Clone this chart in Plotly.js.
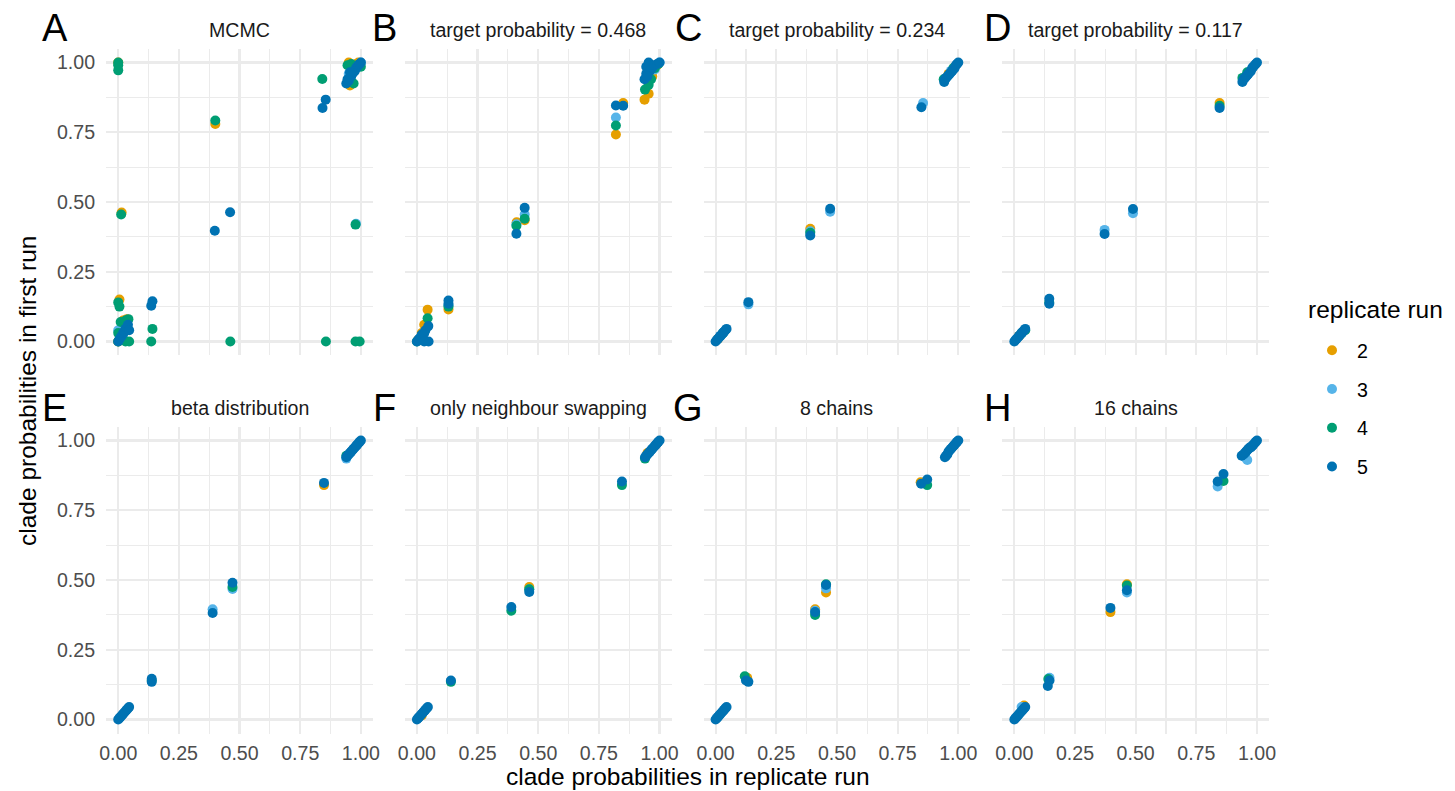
<!DOCTYPE html>
<html>
<head>
<meta charset="utf-8">
<script src="https://cdn.plot.ly/plotly-3.0.1.min.js"></script>
<style>html,body{margin:0;padding:0;background:#fff;}#chart{width:1455px;height:791px;}</style>
</head>
<body>
<div id="chart"></div>
<script>
// ---------------- DATA ----------------
const panelTags = ["A","B","C","D","E","F","G","H"];
const panelTitles = ["MCMC","target probability = 0.468","target probability = 0.234","target probability = 0.117",
                     "beta distribution","only neighbour swapping","8 chains","16 chains"];
const runs = ["2","3","4","5"];
const runColors = ["#E69F00","#56B4E9","#009E73","#0072B2"];
const tickVals = [0, 0.25, 0.5, 0.75, 1];
const tickText = ["0.00","0.25","0.50","0.75","1.00"];
const minorVals = [0.125, 0.375, 0.625, 0.875];

// [replicate-run probability, first-run probability]
const A2 = [[0,1.0],[0.005,0.15],[0.014,0.462],[0.02,0.075],[0.035,0.08],[0.40,0.78],[0.95,1.0],[0.96,0.99],[0.955,0.918],[0.98,0.995],[0.99,1.0],[0,0],[0.01,0.01]];
const A3 = [[0,0.04],[0.005,0.005],[0.02,0.02],[0.98,0.422],[0.95,0.96],[0.97,0.97],[1.0,1.0]];
const A4 = [[0,1.0],[0,0.99],[0,0.972],[0.012,0.455],[0.0,0.14],[0.005,0.125],[0.01,0.07],[0.03,0.075],[0.042,0.08],[0,0.03],[0,0],[0.03,0],[0.045,0],[0.136,0],[0.141,0.045],[0.40,0.792],[0.462,0],[0.841,0.941],[0.978,0.419],[0.856,0],[0.978,0],[0.995,0],[0.945,0.99],[0.96,0.995],[0.97,0.925],[0.985,0.99],[1.0,0.985]];
const A5 = [[0,0],[0.005,0.008],[0.01,0.015],[0.015,0.02],[0.02,0.03],[0.025,0.035],[0.03,0.045],[0.035,0.05],[0.04,0.06],[0.045,0.04],[0.136,0.128],[0.141,0.144],[0.398,0.397],[0.461,0.463],[0.842,0.837],[0.855,0.867],[0.94,0.925],[0.95,0.935],[0.96,0.95],[0.965,0.96],[0.97,0.965],[0.975,0.97],[0.98,0.98],[0.985,0.985],[0.99,0.99],[0.995,0.995],[1.0,1.0],[0.955,0.965],[0.945,0.94]];

const B2 = [[0.005,0.005],[0.02,0.03],[0.03,0.06],[0.044,0.114],[0.13,0.115],[0.411,0.427],[0.444,0.435],[0.82,0.742],[0.85,0.855],[0.938,0.867],[0.955,0.888],[0.97,0.95],[0.99,0.99]];
const B3 = [[0.01,0.01],[0.03,0.03],[0.13,0.13],[0.41,0.42],[0.444,0.455],[0.82,0.803],[0.955,0.95],[0.98,0.975],[1.0,1.0]];
const B4 = [[0,0],[0.02,0.02],[0.044,0.083],[0.13,0.125],[0.41,0.415],[0.444,0.44],[0.82,0.774],[0.94,0.903],[0.955,0.92],[0.965,0.94],[0.98,0.98],[0.995,0.995]];
const B5 = [[0,0],[0.005,0.005],[0.01,0.01],[0.015,0.015],[0.02,0.025],[0.03,0.03],[0.035,0.04],[0.047,0.055],[0.048,0],[0.03,0],[0.13,0.135],[0.13,0.147],[0.41,0.386],[0.444,0.479],[0.82,0.846],[0.85,0.845],[0.938,0.94],[0.945,0.96],[0.945,0.985],[0.955,1.0],[0.96,0.97],[0.97,0.98],[0.98,0.99],[0.99,0.995],[1.0,1.0],[0.95,0.95]];

const C2 = [[0.01,0.01],[0.39,0.404],[0.96,0.96]];
const C3 = [[0.02,0.02],[0.135,0.133],[0.39,0.395],[0.472,0.465],[0.855,0.855],[0.97,0.97]];
const C4 = [[0.03,0.03],[0.39,0.39],[0.94,0.94],[0.98,0.98]];
const C5 = [[0,0],[0.005,0.005],[0.01,0.01],[0.015,0.015],[0.02,0.02],[0.025,0.025],[0.03,0.03],[0.035,0.035],[0.04,0.04],[0.045,0.045],[0.135,0.141],[0.39,0.38],[0.472,0.476],[0.848,0.84],[0.942,0.93],[0.945,0.94],[0.95,0.945],[0.955,0.95],[0.96,0.955],[0.965,0.96],[0.97,0.965],[0.975,0.97],[0.98,0.975],[0.985,0.98],[0.99,0.99],[0.995,0.995],[1,1]];

const D2 = [[0.02,0.02],[0.846,0.855]];
const D3 = [[0.372,0.40],[0.489,0.46],[0.96,0.96]];
const D4 = [[0.03,0.03],[0.045,0.04],[0.144,0.14],[0.846,0.845],[0.94,0.945],[0.96,0.965]];
const D5 = [[0,0],[0.005,0.005],[0.01,0.01],[0.015,0.015],[0.02,0.02],[0.025,0.025],[0.03,0.03],[0.035,0.035],[0.04,0.04],[0.045,0.045],[0.144,0.153],[0.144,0.135],[0.372,0.385],[0.489,0.475],[0.846,0.837],[0.94,0.93],[0.945,0.94],[0.95,0.945],[0.955,0.95],[0.96,0.955],[0.965,0.96],[0.97,0.965],[0.975,0.97],[0.98,0.98],[0.985,0.985],[0.99,0.99],[0.995,0.995],[1,1]];

const E2 = [[0.848,0.84]];
const E3 = [[0.389,0.395],[0.471,0.468],[0.94,0.935]];
const E4 = [[0.138,0.14],[0.471,0.475],[0.94,0.945]];
const E5 = [[0,0],[0.005,0.005],[0.01,0.01],[0.015,0.015],[0.02,0.02],[0.025,0.025],[0.03,0.03],[0.035,0.035],[0.04,0.04],[0.045,0.045],[0.138,0.146],[0.138,0.135],[0.389,0.382],[0.471,0.49],[0.848,0.848],[0.94,0.94],[0.945,0.945],[0.95,0.95],[0.955,0.955],[0.96,0.96],[0.965,0.965],[0.97,0.97],[0.975,0.975],[0.98,0.98],[0.985,0.985],[0.99,0.99],[0.995,0.995],[1,1]];

const F2 = [[0.02,0.015],[0.463,0.475],[0.95,0.955]];
const F3 = [[0.463,0.467]];
const F4 = [[0.14,0.135],[0.389,0.39],[0.463,0.467],[0.845,0.84],[0.94,0.935]];
const F5 = [[0,0],[0.005,0.005],[0.01,0.01],[0.015,0.015],[0.02,0.02],[0.025,0.025],[0.03,0.03],[0.035,0.035],[0.04,0.04],[0.045,0.045],[0.14,0.14],[0.389,0.403],[0.463,0.457],[0.845,0.853],[0.94,0.94],[0.945,0.945],[0.95,0.95],[0.955,0.955],[0.96,0.96],[0.965,0.965],[0.97,0.97],[0.975,0.975],[0.98,0.98],[0.985,0.985],[0.99,0.99],[0.995,0.995],[1,1]];

const G2 = [[0.13,0.15],[0.41,0.395],[0.455,0.455],[0.845,0.85]];
const G3 = [[0.41,0.39],[0.455,0.47]];
const G4 = [[0.12,0.155],[0.41,0.375],[0.455,0.485],[0.872,0.84]];
const G5 = [[0,0],[0.005,0.005],[0.01,0.01],[0.015,0.015],[0.02,0.02],[0.025,0.025],[0.03,0.03],[0.035,0.035],[0.04,0.04],[0.045,0.045],[0.125,0.14],[0.135,0.135],[0.41,0.385],[0.455,0.482],[0.847,0.845],[0.872,0.86],[0.945,0.94],[0.95,0.945],[0.955,0.95],[0.96,0.96],[0.965,0.965],[0.97,0.97],[0.975,0.975],[0.98,0.98],[0.985,0.985],[0.99,0.99],[0.995,0.995],[1,1]];

const H2 = [[0.04,0.05],[0.396,0.385],[0.464,0.485]];
const H3 = [[0.03,0.045],[0.145,0.15],[0.464,0.455],[0.838,0.835],[0.96,0.93],[0.95,0.94]];
const H4 = [[0.14,0.145],[0.464,0.48],[0.862,0.855]];
const H5 = [[0,0],[0.005,0.005],[0.01,0.01],[0.015,0.015],[0.02,0.02],[0.025,0.025],[0.03,0.03],[0.035,0.035],[0.04,0.04],[0.045,0.045],[0.138,0.12],[0.145,0.14],[0.396,0.4],[0.464,0.463],[0.838,0.853],[0.862,0.88],[0.937,0.945],[0.945,0.95],[0.95,0.955],[0.955,0.96],[0.96,0.965],[0.965,0.97],[0.97,0.975],[0.975,0.975],[0.98,0.98],[0.985,0.985],[0.99,0.99],[0.995,0.995],[1,1]];

const panelData = [[A2,A3,A4,A5],[B2,B3,B4,B5],[C2,C3,C4,C5],[D2,D3,D4,D5],
                   [E2,E3,E4,E5],[F2,F3,F4,F5],[G2,G3,G4,G5],[H2,H3,H4,H5]];

// ---------------- LAYOUT ----------------
const W = 1455, H = 791;
const FONT = "Liberation Sans, Arial, Helvetica, sans-serif";
const colLeft = [106.1, 404.8, 703.5, 1002.2];
const panelW = 266.9;
const rowTop = [48.6, 426.5];
const rowBottom = [355.4, 733.5];
const tagCenterX = [55, 384.7, 688, 997];

const traces = [];
const layout = {
  width: W, height: H,
  margin: {l: 0, r: 0, t: 0, b: 0},
  paper_bgcolor: "#ffffff", plot_bgcolor: "#ffffff",
  font: {family: FONT, color: "#4D4D4D"},
  showlegend: true,
  legend: {
    x: 1307/W, y: 1 - 331/H, xanchor: "left", yanchor: "top",
    font: {size: 19.6, color: "#000000", family: FONT},
    traceorder: "grouped", tracegroupgap: 10.3, itemsizing: "trace", itemwidth: 40,
    bgcolor: "rgba(0,0,0,0)"
  },
  annotations: []
};

for (let i = 0; i < 8; i++) {
  const row = Math.floor(i / 4), col = i % 4;
  const sfx = i === 0 ? "" : String(i + 1);
  const xa = {
    domain: [colLeft[col] / W, (colLeft[col] + panelW) / W],
    anchor: "y" + sfx, range: [-0.05, 1.05],
    tickmode: "array", tickvals: tickVals, ticktext: tickText,
    showticklabels: row === 1, ticks: "", ticklabelstandoff: 6,
    tickfont: {size: 19.6, color: "#4D4D4D", family: FONT},
    showgrid: true, gridcolor: "#EBEBEB", gridwidth: 2.2,
    minor: {tickvals: minorVals, showgrid: true, gridcolor: "#EBEBEB", gridwidth: 1.1},
    zeroline: false, showline: false, fixedrange: true
  };
  const ya = {
    domain: [1 - rowBottom[row] / H, 1 - rowTop[row] / H],
    anchor: "x" + sfx, range: [-0.05, 1.05],
    tickmode: "array", tickvals: tickVals, ticktext: tickText,
    showticklabels: col === 0, ticks: "", ticklabelstandoff: 10,
    tickfont: {size: 19.6, color: "#4D4D4D", family: FONT},
    showgrid: true, gridcolor: "#EBEBEB", gridwidth: 2.2,
    minor: {tickvals: minorVals, showgrid: true, gridcolor: "#EBEBEB", gridwidth: 1.1},
    zeroline: false, showline: false, fixedrange: true
  };
  layout["xaxis" + sfx] = xa;
  layout["yaxis" + sfx] = ya;

  panelData[i].forEach((pts, r) => {
    traces.push({
      type: "scatter", mode: "markers",
      x: pts.map(p => p[0]), y: pts.map(p => p[1]),
      xaxis: "x" + sfx, yaxis: "y" + sfx,
      name: runs[r], legendgroup: runs[r], showlegend: i === 0,
      marker: {color: runColors[r], size: 10, line: {width: 0}},
      hoverinfo: "x+y+name"
    });
  });

  const cx = colLeft[col] + panelW / 2;
  const stripY = row === 0 ? 30 : 408;
  layout.annotations.push({
    text: panelTitles[i], xref: "paper", yref: "paper",
    x: cx / W, y: 1 - stripY / H, xanchor: "center", yanchor: "middle",
    showarrow: false, font: {size: 19.6, color: "#1A1A1A", family: FONT}
  });
  const tagY = row === 0 ? 28 : 408;
  layout.annotations.push({
    text: panelTags[i], xref: "paper", yref: "paper",
    x: tagCenterX[col] / W, y: 1 - tagY / H, xanchor: "center", yanchor: "middle",
    showarrow: false, font: {size: 38, color: "#000000", family: FONT}
  });
}

layout.annotations.push({
  text: "replicate run", xref: "paper", yref: "paper",
  x: 1306 / W, y: 1 - 309 / H, xanchor: "left", yanchor: "middle",
  showarrow: false, font: {size: 24.5, color: "#000000", family: FONT}
});
layout.annotations.push({
  text: "clade probabilities in replicate run", xref: "paper", yref: "paper",
  x: 687.6 / W, y: 1 - 776 / H, xanchor: "center", yanchor: "middle",
  showarrow: false, font: {size: 24.5, color: "#000000", family: FONT}
});
layout.annotations.push({
  text: "clade probabilities in first run", xref: "paper", yref: "paper",
  x: 28 / W, y: 1 - 391 / H, xanchor: "center", yanchor: "middle", textangle: -90,
  showarrow: false, font: {size: 24.5, color: "#000000", family: FONT}
});

Plotly.newPlot("chart", traces, layout, {displayModeBar: false, staticPlot: true});
</script>
</body>
</html>
